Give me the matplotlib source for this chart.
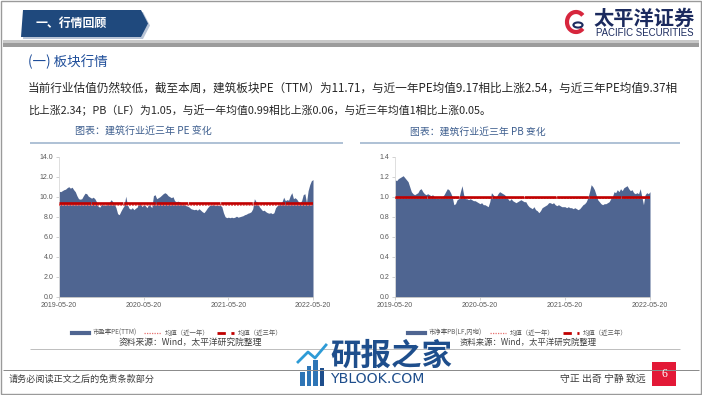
import matplotlib
matplotlib.use('Agg')
import matplotlib.pyplot as plt
import numpy as np
import pandas as pd
from matplotlib.patches import Polygon, Rectangle, Arc, Circle
from matplotlib.lines import Line2D

# ---------------- data ----------------
start_date = '2019-05-20'
end_date = '2022-05-20'
xtick_labels = ['2019-05-20', '2020-05-20', '2021-05-20', '2022-05-20']

pe_values = [10.55, 10.5, 10.6, 10.7, 10.75, 10.9, 11.0, 10.85, 10.95, 10.7,
             10.5, 10.1, 9.8, 9.75, 9.8, 10.1, 10.35, 10.3, 10.05, 9.95,
             9.85, 9.95, 9.8, 9.5, 9.05, 8.95, 9.2, 9.3, 9.15, 9.25,
             9.3, 9.45, 9.7, 9.5, 9.25, 8.9, 8.3, 8.2, 8.55, 8.85,
             9.1, 10.05, 9.2, 8.85, 8.75, 8.9, 8.7, 8.85, 8.95, 9.4,
             9.3, 9.0, 9.2, 9.1, 8.9, 9.2, 9.1, 8.9, 10.1, 10.2,
             9.8, 9.9, 10.0, 10.15, 10.3, 10.4, 10.3, 10.1, 10.0, 9.9,
             10.0, 9.6, 9.5, 9.55, 9.5, 9.4, 9.35, 9.2, 9.1, 9.05,
             8.95, 8.8, 8.75, 8.7, 8.75, 8.65, 8.8, 8.65, 8.5, 8.4,
             8.6, 8.85, 9.05, 9.2, 9.15, 9.25, 9.1, 9.2, 9.1, 9.15,
             9.0, 8.4, 8.0, 7.9, 7.95, 7.9, 7.95, 7.9, 7.95, 8.05,
             7.95, 8.0, 8.05, 8.1, 8.2, 8.25, 8.35, 8.4, 8.5, 8.8,
             9.8, 9.5, 9.45, 9.0, 8.8, 8.6, 8.65, 8.5, 8.4, 8.35,
             8.4, 8.3, 8.4, 8.9, 9.1, 9.2, 9.35, 9.5, 9.95, 9.6,
             9.7, 9.65, 10.1, 10.4, 9.8, 9.9, 9.75, 9.5, 9.4, 9.6,
             10.2, 10.3, 9.4, 10.6, 11.2, 11.6, 11.71]

pb_values = [1.17, 1.16, 1.18, 1.19, 1.2, 1.21, 1.19, 1.17, 1.15, 1.1,
             1.05, 1.03, 1.02, 1.03, 1.04, 1.07, 1.08, 1.05, 1.03, 1.02,
             1.03, 1.02, 1.01, 1.02, 1.0, 0.98, 0.99, 0.98, 0.99, 1.0,
             1.02, 1.05, 1.08, 1.07, 1.04, 1.0, 0.92, 0.93, 0.97, 0.98,
             1.05, 1.11, 1.02, 0.98, 0.98, 0.97, 0.98, 0.97, 0.96, 0.96,
             0.95, 0.94, 0.93, 0.94, 0.92, 0.92, 0.91, 0.9, 0.95, 1.04,
             1.02, 1.0, 1.0, 1.03, 1.05, 1.04, 1.03, 1.02, 1.0, 0.98,
             0.96, 0.98, 0.96, 0.95, 0.94, 0.95, 0.96, 0.97, 0.96, 0.95,
             0.95, 0.92, 0.9, 0.89, 0.88, 0.9, 0.87, 0.86, 0.84, 0.86,
             0.89, 0.9, 0.91, 0.92, 0.94, 0.94, 0.93, 0.94, 0.92, 0.91,
             0.92, 0.91, 0.9, 0.9, 0.9, 0.89, 0.9, 0.89, 0.89, 0.88,
             0.89, 0.88, 0.87, 0.88, 0.9, 0.92, 0.93, 0.95, 0.99, 1.05,
             1.12, 1.1, 1.07, 1.02, 0.97, 0.95, 0.93, 0.92, 0.93, 0.93,
             0.94, 0.95, 0.98, 1.0, 1.05, 1.04, 1.07, 1.05, 1.08, 1.06,
             1.09, 1.1, 1.11, 1.08, 1.06, 1.07, 1.04, 1.03, 1.04, 1.03,
             1.08, 1.0, 0.92, 1.02, 1.04, 1.03, 1.05]

pe_avg_1y = 9.17
pe_avg_3y = 9.37
pb_avg_1y = 0.99
pb_avg_3y = 1.00

pe_yticks = [0, 2, 4, 6, 8, 10, 12, 14]
pb_yticks = [0, 0.2, 0.4, 0.6, 0.8, 1.0, 1.2, 1.4]

legend_pe = ['市盈率PE(TTM)', '均值（近一年）', '均值（近三年）']
legend_pb = ['市净率PB(LF,内地)', '均值（近一年）', '均值（近三年）']

header_title = '一、行情回顾'
section_title = '(一) 板块行情'
body_line1 = '当前行业估值仍然较低，截至本周，建筑板块PE（TTM）为11.71，与近一年PE均值9.17相比上涨2.54，与近三年PE均值9.37相'
body_line2 = '比上涨2.34；PB（LF）为1.05，与近一年均值0.99相比上涨0.06，与近三年均值1相比上涨0.05。'
chart_title_pe = '图表：建筑行业近三年 PE 变化'
chart_title_pb = '图表：建筑行业近三年 PB 变化'
source_text = '资料来源：Wind，太平洋研究院整理'
footer_left = '请务必阅读正文之后的免责条款部分'
footer_right = '守正 出奇 宁静 致远'
page_no = '6'

# ---------------- figure ----------------
W, H = 702, 395
fig = plt.figure(figsize=(W / 100, H / 100), dpi=100)
fig.patch.set_facecolor('white')
renderer = fig.canvas.get_renderer()
CJK = ['Noto Sans CJK SC', 'DejaVu Sans']

FILL = '#4F6591'
DARKRED = '#C00000'
PINK = '#E8706E'
GRAY_TXT = '#595959'


def fx(x):
    return x / W


def fy(y):
    return 1 - y / H


def txt(x, y, s, fs, target_w=None, ha='left', va='center', family=None, **kw):
    t = fig.text(fx(x), fy(y), s, fontsize=fs, ha=ha, va=va,
                 family=family if family else CJK, **kw)
    if target_w:
        bb = t.get_window_extent(renderer=renderer)
        t.set_fontsize(fs * target_w / bb.width)
    return t


def hline(x0, x1, y, color, lwpx):
    fig.add_artist(Line2D([fx(x0), fx(x1)], [fy(y), fy(y)], transform=fig.transFigure,
                          color=color, lw=lwpx * 0.72, solid_capstyle='butt'))


def rect(x0, y0, x1, y1, color, **kw):
    fig.add_artist(Rectangle((fx(x0), fy(y1)), (x1 - x0) / W, (y1 - y0) / H,
                             transform=fig.transFigure, facecolor=color,
                             edgecolor='none', **kw))


def poly(pts, color, **kw):
    fig.add_artist(Polygon([(fx(a), fy(b)) for a, b in pts], closed=True,
                           transform=fig.transFigure, facecolor=color,
                           edgecolor='none', **kw))


# slide border
fig.add_artist(Rectangle((0.001, 0.002), 0.998, 0.996, transform=fig.transFigure,
                         facecolor='none', edgecolor='#9A9A9A', lw=1.0))

# header banner
poly([(25, 12), (143, 12), (150, 25.5), (143, 39), (23, 39)], '#B8C4D6')
poly([(23, 10), (141, 10), (148, 23.5), (141, 37), (21, 37)], '#1F497D')
txt(36, 23.5, header_title, 8.6, color='white', weight='bold')

# logo
fig.add_artist(Arc((fx(576), fy(22)), 18 / W, 20 / H, theta1=60, theta2=300,
                   transform=fig.transFigure, color='#D7263D', lw=3))
fig.add_artist(Circle((fx(578), fy(25)), 0.0065, transform=fig.transFigure,
                      facecolor='none', edgecolor='#1B2A5E', lw=1.5))
txt(593, 18, '太平洋证券', 12, target_w=101, color='#1B2A5E', weight='bold')
txt(596, 33, 'PACIFIC SECURITIES', 5.2, target_w=98, color='#1B2A5E',
    family=['Liberation Sans'])

# gray band
rect(3, 40, 699, 43, '#C8C8C8')
rect(3, 43, 699, 47, '#9C9C9C')

# section title and body text
txt(28, 62, section_title, 8, target_w=80, color='#1F4E9A')
txt(28, 88, body_line1, 8.3, target_w=649, color='#262626')
txt(28, 110, body_line2, 8.3, target_w=462, color='#262626')

# chart titles and underlines
txt(75, 132, chart_title_pe, 6.5, target_w=137, color='#3E5F8F')
txt(410, 132, chart_title_pb, 6.5, target_w=135, color='#3E5F8F')
hline(30, 343, 143, '#9DB3CC', 1.6)
hline(360, 680, 143, '#9DB3CC', 1.6)

# ---------------- charts ----------------
dates = pd.date_range(start_date, end_date, periods=len(pe_values))
tick_dates = pd.to_datetime(xtick_labels)


def make_chart(x_left, x_right, values, avg1, avg3, yticks, fmt, legend_labels, legend_cx):
    ax = fig.add_axes([fx(x_left), fy(296.7), (x_right - x_left) / W, 140 / H])
    ax.fill_between(dates, 0, values, color=FILL, lw=0, step=None)
    ax.axhline(avg1, color=PINK, lw=1.4, ls=(0, (1, 0.5)), zorder=3)
    ax.axhline(avg3, color=DARKRED, lw=1.9, ls=(0, (12, 0.25)), zorder=4)
    ax.set_xlim(dates[0], dates[-1])
    ax.set_ylim(yticks[0], yticks[-1])
    ax.set_yticks(yticks)
    ax.set_yticklabels([fmt % v for v in yticks])
    ax.set_xticks(tick_dates)
    ax.set_xticklabels(xtick_labels)
    for s in ['top', 'right']:
        ax.spines[s].set_visible(False)
    ax.spines['left'].set_color('#D9D9D9')
    ax.spines['bottom'].set_color('#BFBFBF')
    ax.spines['left'].set_linewidth(0.6)
    ax.spines['bottom'].set_linewidth(0.6)
    ax.tick_params(axis='both', labelsize=5, colors=GRAY_TXT, length=2, width=0.5,
                   pad=2)
    ax.tick_params(axis='both', color='#BFBFBF')
    for lab in ax.get_xticklabels() + ax.get_yticklabels():
        lab.set_family('Liberation Sans')
    ax.patch.set_alpha(0)
    handles = [Line2D([], [], color=FILL, lw=3),
               Line2D([], [], color=PINK, lw=0.9, ls=(0, (1, 1))),
               Line2D([], [], color=DARKRED, lw=2, ls=(0, (3, 2)))]
    leg = fig.legend(handles, legend_labels, loc='center',
                     bbox_to_anchor=(fx(legend_cx), fy(333)), ncol=3, frameon=False,
                     handlelength=2.6, columnspacing=1.2,
                     handletextpad=0.6, borderaxespad=0,
                     prop={'family': CJK, 'size': 4.6})
    for t in leg.get_texts():
        t.set_color(GRAY_TXT)
    return ax


make_chart(59, 313, pe_values, pe_avg_1y, pe_avg_3y, pe_yticks, '%.1f', legend_pe, 177)
make_chart(395, 650, pb_values, pb_avg_1y, pb_avg_3y, pb_yticks, '%.1f', legend_pb, 518)

# source lines & texts
hline(30, 343, 349, '#BFBFBF', 1.0)
hline(360, 680, 349, '#BFBFBF', 1.0)
txt(190, 342, source_text, 6, target_w=145, ha='center', color='#404040', style='italic')
txt(528, 342, source_text, 6, target_w=137, ha='center', color='#404040', style='italic')

# watermark
for i, (h, c) in enumerate([(14, '#2E75B6'), (20, '#2E75B6'), (26, '#2E75B6'), (18, '#1E4E8C')]):
    rect(300 + i * 6.5, 386 - h, 304.5 + i * 6.5, 386, c)
fig.add_artist(Line2D([fx(298), fx(308), fx(315), fx(326)], [fy(362), fy(352), fy(358), fy(345)],
                      transform=fig.transFigure, color='#2E9BD6', lw=2))
txt(330, 356, '研报之家', 18, target_w=122, color='#1E4E8C', weight='bold')
txt(330, 379, 'YBLOOK.COM', 11, target_w=95, color='#1E4E8C', family=['DejaVu Sans'])

# footer
hline(3, 699, 370, '#8C8C8C', 1.0)
txt(9, 379, footer_left, 6.2, target_w=146, color='#404040')
txt(560, 379, footer_right, 6, target_w=86, color='#404040')
rect(652, 362, 676, 386, '#E31937')
txt(664, 374, page_no, 8.5, ha='center', color='white', family=['Liberation Serif'])

fig.savefig('out.png', dpi=100)
